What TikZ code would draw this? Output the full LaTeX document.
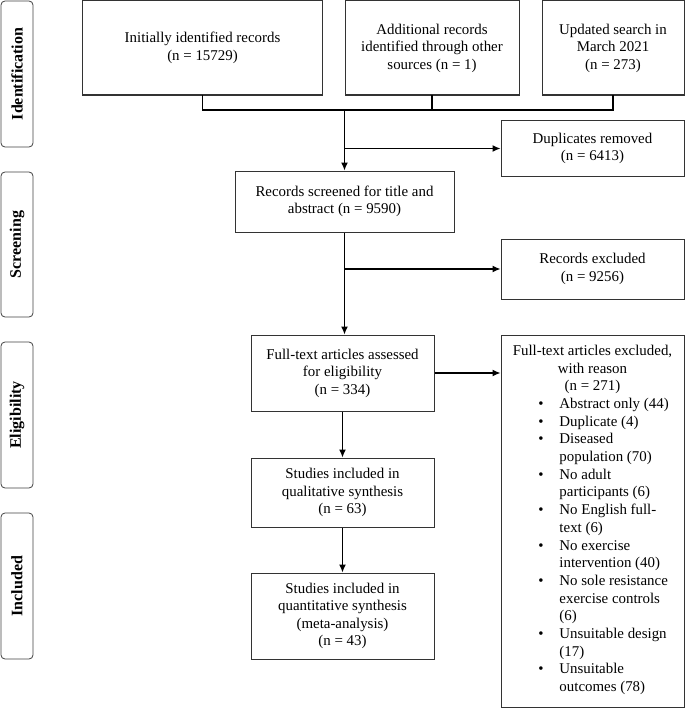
\documentclass[tikz,border=0pt]{standalone}
\usepackage{fontspec}
\setmainfont{Liberation Serif}
\usepackage{tikz}
\usetikzlibrary{arrows.meta}

\begin{document}
\begin{tikzpicture}[->,>={Latex[length=8bp,width=7bp]},x=1bp,y=-1bp,line width=1.3bp,
    font=\fontsize{14.9bp}{17.5bp}\selectfont]
  \tikzset{box/.style={draw=black!80, line width=1bp, align=center, inner sep=0pt, -}}
  \tikzset{phase/.style={draw=black!75, line width=0.8bp, rounded corners=4bp, rotate=90,
      minimum width=146bp, minimum height=32bp, inner sep=0pt, -,
      font=\fontsize{16bp}{18bp}\selectfont\bfseries}}
  \useasboundingbox (0,0) rectangle (685,708);

  % phases
  \node[phase] (ident) at (17,74) {Identification};
  \node[phase, minimum width=145bp] (scr) at (17,244.5) {Screening};
  \node[phase] (elig) at (17,415) {Eligibility};
  \node[phase] (incl) at (17,586) {Included};

  % identification
  \node[box, minimum width=239bp, minimum height=94bp] (init) at (202.5,48) {Initially identified records\\ (n = 15729)};
  \node[box, minimum width=174bp, minimum height=94bp] (addl) at (432,48) {Additional records\\ identified through other\\ sources (n = 1)};
  \node[box, minimum width=142bp, minimum height=94bp] (upd) at (613,48) {Updated search in\\ March 2021\\ (n = 273)};
  \node[box, minimum width=183bp, minimum height=55bp] (dup) at (592.5,148.5) {Duplicates removed\\ (n = 6413)};

  % screening
  \node[box, minimum width=219bp, minimum height=61bp] (screen) at (344.5,201.5) {Records screened for title and\\ abstract (n = 9590)};
  \node[box, minimum width=183bp, minimum height=60bp] (recex) at (592.5,269) {Records excluded\\ (n = 9256)};

  % eligibility
  \node[box, minimum width=183bp, minimum height=76bp] (ftass) at (342.5,373) {Full-text articles assessed\\ for eligibility\\ (n = 334)};
  \node[box, minimum width=183bp, minimum height=372bp, font=\fontsize{14.9bp}{17.7bp}\selectfont] (ftex) at (592.5,521) {Full-text articles excluded,\\ with reason\\ (n = 271)\\
    \begin{tabular}[t]{@{\hspace{22bp}}l@{\hspace{16bp}}l@{}}
      \textbullet & Abstract only (44)\\
      \textbullet & Duplicate (4)\\
      \textbullet & Diseased\\
                  & population (70)\\
      \textbullet & No adult\\
                  & participants (6)\\
      \textbullet & No English full-\\
                  & text (6)\\
      \textbullet & No exercise\\
                  & intervention (40)\\
      \textbullet & No sole resistance\\
                  & exercise controls\\
                  & (6)\\
      \textbullet & Unsuitable design\\
                  & (17)\\
      \textbullet & Unsuitable\\
                  & outcomes (78)
    \end{tabular}};

  % included
  \node[box, minimum width=183bp, minimum height=69bp] (qual) at (342.5,492.5) {Studies included in\\ qualitative synthesis\\ (n = 63)};
  \node[box, minimum width=183bp, minimum height=86bp] (quant) at (342.5,616) {Studies included in\\ quantitative synthesis\\ (meta-analysis)\\ (n = 43)};

  \coordinate (merge) at (screen.north |- 0,110);
  \draw[-] (init.south) |- (upd.south |- merge) -- (upd.south);
  \draw[-] (addl.south) -- (addl.south |- merge);
  \path (merge) edge (screen.north);
  \path (screen.north |- dup.west) edge (dup.west);
  \path (screen.south) edge (screen.south |- ftass.north);
  \path (screen.south |- recex.west) edge (recex.west);
  \path (ftass.east) edge (ftass.east -| ftex.west);
  \path (ftass.south) edge (qual.north);
  \path (qual.south) edge (quant.north);
\end{tikzpicture}
\end{document}
